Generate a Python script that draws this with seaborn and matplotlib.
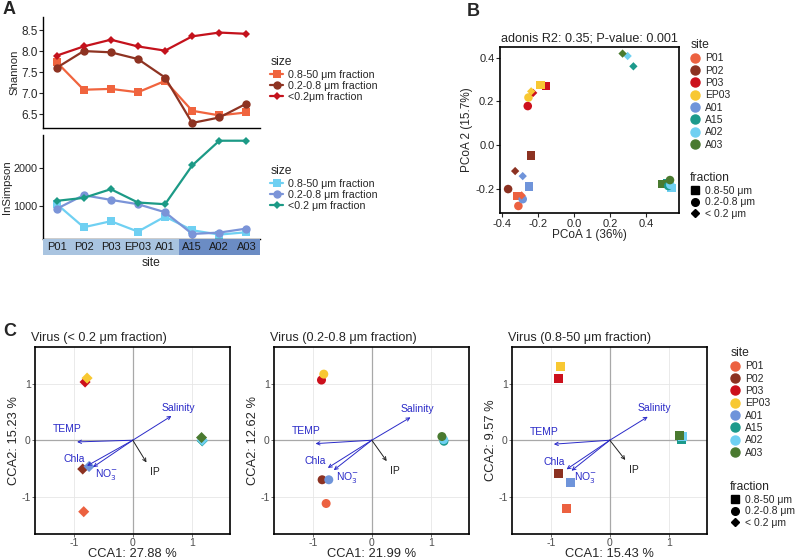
import matplotlib
matplotlib.use("Agg")
import matplotlib.pyplot as plt
from matplotlib.lines import Line2D
import seaborn as sns
import pandas as pd

# ---- data ----
sites = ["P01", "P02", "P03", "EP03", "A01", "A15", "A02", "A03"]
site_colors = ["#ec6140", "#8c3222", "#cc101c", "#f8c832", "#6f94da", "#1c9a8c", "#6fd0f2", "#4a7a30"]
fractions = ["0.8-50 μm", "0.2-0.8 μm", "< 0.2 μm"]

# panel A
shannon_08_50 = [7.74, 7.08, 7.10, 7.02, 7.29, 6.58, 6.47, 6.54]
shannon_02_08 = [7.60, 8.00, 7.97, 7.81, 7.37, 6.29, 6.42, 6.75]
shannon_lt02 = [7.89, 8.11, 8.27, 8.11, 8.01, 8.35, 8.44, 8.41]
insimpson_08_50 = [1060, 452, 609, 339, 730, 374, 261, 322]
insimpson_02_08 = [930, 1287, 1165, 1052, 843, 278, 313, 417]
insimpson_lt02 = [1139, 1217, 1443, 1096, 1052, 2061, 2705, 2705]
site_group = ["Pacific"] * 5 + ["Atlantic"] * 3

# panel B (PCoA), order of sites as above
pcoa_08_50_x = [-0.313, -0.238, -0.156, -0.184, -0.250, 0.518, 0.542, 0.492]
pcoa_08_50_y = [-0.230, -0.045, 0.270, 0.274, -0.188, -0.173, -0.195, -0.176]
pcoa_02_08_x = [-0.308, -0.365, -0.256, -0.252, -0.284, 0.523, 0.535, 0.533]
pcoa_02_08_y = [-0.276, -0.199, 0.179, 0.218, -0.245, -0.185, -0.180, -0.158]
pcoa_lt02_x = [-0.290, -0.326, -0.226, -0.237, -0.284, 0.330, 0.298, 0.270]
pcoa_lt02_y = [-0.228, -0.117, 0.239, 0.246, -0.140, 0.360, 0.407, 0.418]

# panel C (CCA site scores)
cca_lt02_x = [-0.833, -0.850, -0.810, -0.776, -0.742, 1.178, 1.180, 1.167]
cca_lt02_y = [-1.265, -0.510, 1.030, 1.100, -0.465, -0.012, 0.000, 0.047]
cca_02_08_x = [-0.775, -0.843, -0.854, -0.815, -0.730, 1.225, 1.220, 1.190]
cca_02_08_y = [-1.120, -0.700, 1.065, 1.170, -0.700, -0.018, 0.010, 0.065]
cca_08_50_x = [-0.734, -0.868, -0.874, -0.840, -0.660, 1.220, 1.230, 1.190]
cca_08_50_y = [-1.210, -0.590, 1.090, 1.300, -0.750, 0.012, 0.060, 0.088]

env_vars = ["TEMP", "Salinity", "Chla", "NO$_3^{-}$", "IP"]
env_lt02_x = [-0.946, 0.657, -0.776, -0.674, 0.232]
env_lt02_y = [-0.030, 0.430, -0.453, -0.476, -0.394]
env_02_08_x = [-0.955, 0.657, -0.747, -0.646, 0.253]
env_02_08_y = [-0.060, 0.405, -0.490, -0.530, -0.370]
env_08_50_x = [-0.950, 0.644, -0.734, -0.650, 0.263]
env_08_50_y = [-0.070, 0.415, -0.515, -0.540, -0.350]

cca_titles = ["Virus (< 0.2 μm fraction)", "Virus (0.2-0.8 μm fraction)", "Virus (0.8-50 μm fraction)"]
cca1_labels = ["CCA1: 27.88 %", "CCA1: 21.99 %", "CCA1: 15.43 %"]
cca2_labels = ["CCA2: 15.23 %", "CCA2: 12.62 %", "CCA2: 9.57 %"]

# ---- style ----
sns.set_theme(style="white")
plt.rcParams["font.family"] = ["Liberation Sans", "DejaVu Sans"]
plt.rcParams["axes.unicode_minus"] = False
plt.rcParams["axes.linewidth"] = 1.0
LAB = 8.2

fig = plt.figure(figsize=(8, 5.6), dpi=100)


def px_axes(x0, y0, x1, y1):
    return fig.add_axes([x0 / 800, 1 - y1 / 560, (x1 - x0) / 800, (y1 - y0) / 560])


def fig_xy(x, y):
    return (x / 800, 1 - y / 560)


# ---- panel A ----
size_labels = ["0.8-50 μm fraction", "0.2-0.8 μm fraction", "<0.2μm fraction"]
size_labels2 = ["0.8-50 μm fraction", "0.2-0.8 μm fraction", "<0.2 μm fraction"]
size_markers = ["s", "o", "D"]
size_msizes = [6, 6, 4]
red_cols = ["#f0643e", "#8e3322", "#c4121c"]
blue_cols = ["#6fd0f2", "#7b94d8", "#1c9a86"]

dfA = pd.DataFrame({
    "site": sites * 3,
    "size": [size_labels[0]] * 8 + [size_labels[1]] * 8 + [size_labels[2]] * 8,
    "Shannon": shannon_08_50 + shannon_02_08 + shannon_lt02,
    "InSimpson": insimpson_08_50 + insimpson_02_08 + insimpson_lt02,
})

axA1 = px_axes(43, 17, 260, 128)
axA2 = px_axes(43, 135, 260, 239)
axBand = px_axes(43, 239, 260, 255)

for ax, col, cols, labs in [(axA1, "Shannon", red_cols, size_labels),
                            (axA2, "InSimpson", blue_cols, size_labels2)]:
    for i, sz in enumerate(size_labels):
        sub = dfA[dfA["size"] == sz]
        sns.lineplot(data=sub, x="site", y=col, ax=ax, color=cols[i], lw=1.6,
                     marker=size_markers[i], markersize=size_msizes[i],
                     markeredgewidth=0, sort=False)
    ax.set_xlim(-0.5, 7.5)
    ax.set_xlabel("")
    ax.set_ylabel(col, fontsize=LAB, labelpad=1)
    ax.tick_params(axis="x", bottom=False, labelbottom=False)
    for s in ["top", "right"]:
        ax.spines[s].set_visible(False)
    for s in ["left", "bottom"]:
        ax.spines[s].set_color("black")
    handles = [Line2D([], [], color=cols[i], marker=size_markers[i], markersize=size_msizes[i],
                      markeredgewidth=0, lw=1.6) for i in range(3)]
    if ax is axA1:
        anchor = fig_xy(266, 52)
    else:
        anchor = fig_xy(266, 161)
    fig.legend(handles, labs, title="size", loc="upper left", bbox_to_anchor=anchor,
               frameon=False, fontsize=7.7, title_fontsize=8.7, handlelength=1.2,
               labelspacing=0.12, borderaxespad=0, handletextpad=0.5, alignment="left")

axA1.tick_params(axis="y", labelsize=8.5, length=3, width=0.8, left=True, pad=1)
axA2.tick_params(axis="y", labelsize=7.8, length=3, width=0.8, left=True, pad=1)
axA1.set_ylim(6.17, 8.81)
axA1.set_yticks([6.5, 7.0, 7.5, 8.0, 8.5])
axA2.set_ylim(146, 2854)
axA2.set_yticks([1000, 2000])

band_cols = {"Pacific": "#a9c4e0", "Atlantic": "#6b8cc4"}
axBand.bar(sites, [1] * 8, width=1.0, color=[band_cols[g] for g in site_group], linewidth=0)
axBand.set_xlim(-0.5, 7.5)
axBand.set_ylim(0, 1)
axBand.axis("off")
for i, s in enumerate(sites):
    axBand.text(i, 0.5, s, ha="center", va="center", fontsize=8, color="#1a1a1a")
fig.text(*fig_xy(151, 263), "site", ha="center", va="center", fontsize=LAB + 0.5)

# ---- panel B ----
dfB = pd.DataFrame({
    "site": sites * 3,
    "fraction": [fractions[0]] * 8 + [fractions[1]] * 8 + [fractions[2]] * 8,
    "x": pcoa_08_50_x + pcoa_02_08_x + pcoa_lt02_x,
    "y": pcoa_08_50_y + pcoa_02_08_y + pcoa_lt02_y,
})
frac_markers = {fractions[0]: "s", fractions[1]: "o", fractions[2]: "D"}
frac_sizes = {fractions[0]: 38, fractions[1]: 38, fractions[2]: 18}
pal = dict(zip(sites, site_colors))

axB = px_axes(500, 47, 679, 213)
for fr in fractions:
    sns.scatterplot(data=dfB[dfB["fraction"] == fr], x="x", y="y", hue="site", palette=pal,
                    marker=frac_markers[fr], s=frac_sizes[fr], linewidth=0, ax=axB, legend=False)
axB.set_xlim(-0.41, 0.583)
axB.set_ylim(-0.308, 0.448)
axB.set_xticks([-0.4, -0.2, 0.0, 0.2, 0.4])
axB.set_xticklabels(["-0.4", "-0.2", "0.0", "0.2", "0.4"])
axB.set_yticks([-0.2, 0.0, 0.2, 0.4])
axB.set_yticklabels(["-0.2", "0.0", "0.2", "0.4"])
axB.tick_params(labelsize=8, length=3, width=0.8, bottom=True, left=True, pad=1)
axB.set_xlabel("PCoA 1 (36%)", fontsize=LAB + 0.3, labelpad=0)
axB.set_ylabel("PCoA 2 (15.7%)", fontsize=LAB + 0.3, labelpad=2)
axB.set_title("adonis R2: 0.35; P-value: 0.001", fontsize=9.1, pad=4)
for s in axB.spines.values():
    s.set_color("black")
    s.set_linewidth(1.2)


def site_legend(anchor):
    h = [Line2D([], [], marker="o", color=c, lw=0, markersize=6.5) for c in site_colors]
    return fig.legend(h, sites, title="site", loc="upper left", bbox_to_anchor=anchor,
                      frameon=False, fontsize=7.5, title_fontsize=8.7, handlelength=1.0,
                      labelspacing=0.22, borderaxespad=0, handletextpad=0.4, alignment="left")


def frac_legend(anchor):
    h = [Line2D([], [], marker=m, color="black", lw=0, markersize=ms)
         for m, ms in zip(["s", "o", "D"], [5.5, 5.5, 4])]
    return fig.legend(h, fractions, title="fraction", loc="upper left", bbox_to_anchor=anchor,
                      frameon=False, fontsize=7.5, title_fontsize=8.7, handlelength=1.0,
                      labelspacing=0.15, borderaxespad=0, handletextpad=0.4, alignment="left")


site_legend(fig_xy(686, 35))
frac_legend(fig_xy(686, 168))

# ---- panel C ----
cca_sets = [
    (fractions[2], cca_lt02_x, cca_lt02_y, env_lt02_x, env_lt02_y, (35, 230)),
    (fractions[1], cca_02_08_x, cca_02_08_y, env_02_08_x, env_02_08_y, (274, 469)),
    (fractions[0], cca_08_50_x, cca_08_50_y, env_08_50_x, env_08_50_y, (512, 707)),
]
label_offsets = [(-7, 9), (5, 6), (-9, 5), (10, -5), (6, -7)]
env_colors = ["#2a2ac8", "#2a2ac8", "#2a2ac8", "#2a2ac8", "#222222"]

for k, (fr, sx, sy, ex, ey, (x0, x1)) in enumerate(cca_sets):
    ax = px_axes(x0, 347, x1, 534)
    dfC = pd.DataFrame({"site": sites, "x": sx, "y": sy})
    ax.grid(True, color="#e6e6e6", lw=0.6)
    ax.axhline(0, color="#a8a8a8", lw=0.9, zorder=1)
    ax.axvline(0, color="#a8a8a8", lw=0.9, zorder=1)
    sns.scatterplot(data=dfC, x="x", y="y", hue="site", palette=pal, marker=frac_markers[fr],
                    s=42 if fr != fractions[2] else 32, linewidth=0, ax=ax, legend=False, zorder=3)
    for i, v in enumerate(env_vars):
        ax.annotate("", xy=(ex[i], ey[i]), xytext=(0, 0),
                    arrowprops=dict(arrowstyle="->", color=env_colors[i], lw=0.7,
                                    shrinkA=0, shrinkB=0, mutation_scale=6), zorder=4)
        ax.annotate(v, xy=(ex[i], ey[i]), xytext=label_offsets[i], textcoords="offset points",
                    ha="center", va="center", fontsize=7.5, color=env_colors[i], zorder=5)
    ax.set_xlim(-1.66, 1.65)
    ax.set_ylim(-1.66, 1.65)
    ax.set_xticks([-1, 0, 1])
    ax.set_yticks([-1, 0, 1])
    ax.tick_params(labelsize=7.5, labelcolor="#4d4d4d", length=2, width=0.6, color="#555555",
                   bottom=True, left=True, pad=1)
    ax.set_xlabel(cca1_labels[k], fontsize=9.3, labelpad=0)
    ax.set_ylabel(cca2_labels[k], fontsize=9.3, labelpad=1)
    ax.set_title(cca_titles[k], fontsize=9.1, loc="left", pad=4, x=-0.02)
    for s in ax.spines.values():
        s.set_color("black")
        s.set_linewidth(1.2)

site_legend(fig_xy(726, 343))
frac_legend(fig_xy(726, 477))

# panel letters
fig.text(*fig_xy(3, 10), "A", fontsize=13, fontweight="bold", va="center")
fig.text(*fig_xy(467, 12), "B", fontsize=13, fontweight="bold", va="center")
fig.text(*fig_xy(3, 332), "C", fontsize=13, fontweight="bold", va="center")

fig.savefig("out.png", dpi=100)
